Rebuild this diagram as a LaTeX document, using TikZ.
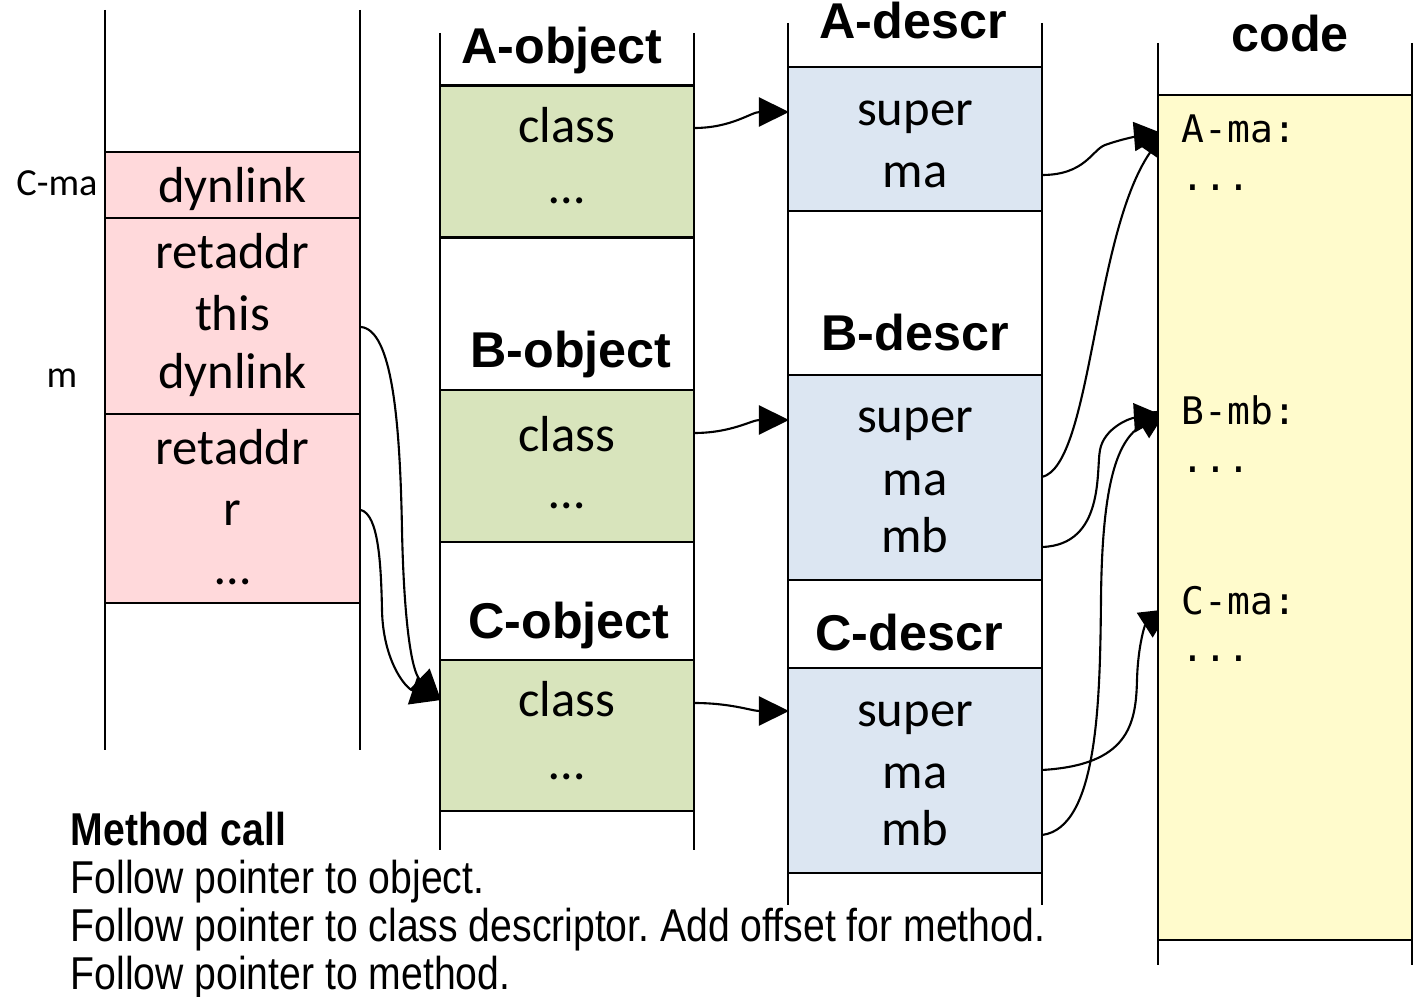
\documentclass[tikz,border=0pt]{standalone}
\usepackage{fontspec}
\setmainfont{Carlito}
\newfontfamily\hdfont{Liberation Sans}
\newfontfamily\codefont{DejaVu Sans Mono}
\newfontfamily\narrowfont[FakeStretch=0.85]{Liberation Sans}
\usetikzlibrary{arrows.meta}
\pgfdeclarelayer{behind}
\pgfsetlayers{behind,main}
\definecolor{stackpink}{RGB}{255,217,219}
\definecolor{objgreen}{RGB}{216,228,188}
\definecolor{descblue}{RGB}{220,230,242}
\definecolor{codeyellow}{RGB}{255,251,204}
\frenchspacing
\begin{document}
\begin{tikzpicture}[x=0.01cm,y=-0.01cm,
  colline/.style={line width=0.65pt},
  cell/.style={draw, line width=0.65pt, inner sep=0pt, minimum width=2.54cm},
  celltxt/.style={anchor=base, font=\fontsize{14.4}{17}\selectfont, inner sep=0pt},
  hdr/.style={anchor=base, font=\hdfont\bfseries\fontsize{14.3}{17}\selectfont, inner sep=0pt},
  codetxt/.style={anchor=base west, font=\codefont\fontsize{10.8}{13}\selectfont, inner sep=0pt},
  side/.style={anchor=base, font=\fontsize{10.9}{13}\selectfont, inner sep=0pt},
  note/.style={anchor=base west, font=\narrowfont\fontsize{13.1}{14}\selectfont, inner sep=0pt},
  ptr/.style={line width=0.6pt, -{Triangle[length=3mm,width=2.9mm]}}
]
\useasboundingbox (0,0) rectangle (1414,997);

% ---------- stack column ----------
\draw[colline] (105,10) -- (105,750);
\draw[colline] (360,10) -- (360,750);
\node[cell, fill=stackpink, minimum width=2.55cm, minimum height=0.66cm] (s1) at (232.5,185) {};
\node[cell, fill=stackpink, minimum width=2.55cm, minimum height=1.96cm] (s2) at (232.5,316) {};
\node[cell, fill=stackpink, minimum width=2.55cm, minimum height=1.89cm] (s3) at (232.5,508.5) {};
\node[celltxt] (t1) at (232.5,203) {dynlink};
\node[celltxt] (t2) at (232.5,269) {retaddr};
\node[celltxt] (t3) at (232.5,331) {this};
\node[celltxt] (t4) at (232.5,389) {dynlink};
\node[celltxt] (t5) at (232.5,465) {retaddr};
\node[celltxt] (t6) at (232.5,526) {r};
\node[celltxt] (t7) at (232.5,585) {…};
\node[side] (lcma) at (57,196) {C-ma};
\node[side] (lm) at (62,388) {m};

% ---------- object column ----------
\draw[colline] (440,33) -- (440,850);
\draw[colline] (694,33) -- (694,850);
\node[hdr] (hao) at (562,64) {A-object};
\node[cell, fill=objgreen, minimum height=1.52cm] (oa) at (567,161.5) {};
\node[celltxt] (oac) at (567,143) {class};
\node[celltxt] (oad) at (567,204) {…};
\node[hdr] (hbo) at (571,368) {B-object};
\node[cell, fill=objgreen, minimum height=1.52cm] (ob) at (567,466) {};
\node[celltxt] (obc) at (567,452) {class};
\node[celltxt] (obd) at (567,509) {…};
\node[hdr] (hco) at (569,639) {C-object};
\node[cell, fill=objgreen, minimum height=1.51cm] (oc) at (567,735.5) {};
\node[celltxt] (occ) at (567,716) {class};
\node[celltxt] (ocd) at (567,779) {…};

% ---------- descriptor column ----------
\draw[colline] (788,23) -- (788,905);
\draw[colline] (1042,23) -- (1042,905);
\node[hdr] (had) at (913,39) {A-descr};
\node[cell, fill=descblue, minimum height=1.44cm] (da) at (915,139) {};
\node[celltxt] (das) at (915,126) {super};
\node[celltxt] (dam) at (915,188) {ma};
\node[hdr] (hbd) at (915,351) {B-descr};
\node[cell, fill=descblue, minimum height=2.05cm] (db) at (915,477.5) {};
\node[celltxt] (dbs) at (915,433) {super};
\node[celltxt] (dbm) at (915,495) {ma};
\node[celltxt] (dbb) at (915,553) {mb};
\node[hdr] (hcd) at (909,651) {C-descr};
\node[cell, fill=descblue, minimum height=2.05cm] (dc) at (915,770.5) {};
\node[celltxt] (dcs) at (915,726) {super};
\node[celltxt] (dcm) at (915,788) {ma};
\node[celltxt] (dcb) at (915,845) {mb};

% ---------- code column ----------
\draw[colline] (1158,43) -- (1158,965);
\draw[colline] (1412,43) -- (1412,965);
\node[hdr] (hcode) at (1290,52) {code};
\node[cell, fill=codeyellow, minimum height=8.45cm] (cd) at (1285,517.5) {};
\node[codetxt] (c1) at (1181,143) {A-ma:};
\node[codetxt] (c2) at (1181,191) {...};
\node[codetxt] (c3) at (1181,425) {B-mb:};
\node[codetxt] (c4) at (1181,473) {...};
\node[codetxt] (c5) at (1181,614) {C-ma:};
\node[codetxt] (c6) at (1181,662) {...};

% ---------- note ----------
\node[note, font=\narrowfont\bfseries\fontsize{13.1}{14}\selectfont] (n0) at (70,845) {Method call};
\node[note] (n1) at (70,893) {Follow pointer to object.};
\node[note] (n2) at (70,941) {Follow pointer to class descriptor. Add offset for method.};
\node[note] (n3) at (70,989) {Follow pointer to method.};

% ---------- connector end points ----------
\coordinate (pthis) at (361,327);
\coordinate (pr) at (361,510);
\coordinate (qc) at (441,700);
\coordinate (poa) at (694,128);
\coordinate (pob) at (694,433);
\coordinate (poc) at (694,703);
\coordinate (qda) at (789,112);
\coordinate (qdb) at (789,420);
\coordinate (qdc) at (789,711);
\coordinate (pdam) at (1042,175);
\coordinate (pdbm) at (1042,477);
\coordinate (pdbb) at (1042,547);
\coordinate (pdcm) at (1042,770);
\coordinate (pdcb) at (1042,835);
\coordinate (qama) at (1164,134);
\coordinate (qama2) at (1167,128);
\coordinate (qbmb) at (1164,416);
\coordinate (qbmb2) at (1167,410);
\coordinate (qcma) at (1170,609);

\begin{pgfonlayer}{behind}
\draw[ptr] (pthis) .. controls (392,330) and (400,420) .. (402,530)
                   .. controls (404,625) and (412,672) .. (qc);
\draw[ptr] (pr) .. controls (378,515) and (381,560) .. (382,610)
                .. controls (383,660) and (405,688) .. (qc);
\draw[ptr] (poa) to[out=0,in=180] (qda);
\draw[ptr] (pob) to[out=0,in=180] (qdb);
\draw[ptr] (poc) to[out=0,in=180] (qdc);
\draw[ptr] (pdam) .. controls (1085,175) and (1092,150) .. (1105,145)
                  .. controls (1125,138) and (1140,136) .. (qama);
\draw[ptr] (pdbm) .. controls (1092,465) and (1093,235) .. (qama2);
\draw[ptr] (pdbb) .. controls (1105,545) and (1096,470) .. (1100,450)
                  .. controls (1104,428) and (1130,418) .. (qbmb);
\draw[ptr] (pdcb) .. controls (1098,828) and (1100,700) .. (1101,600)
                  .. controls (1102,480) and (1118,440) .. (qbmb2);
\draw[ptr] (pdcm) .. controls (1128,765) and (1136,725) .. (1137,680)
                  .. controls (1138,645) and (1145,625) .. (qcma);
\end{pgfonlayer}
\end{tikzpicture}
\end{document}
